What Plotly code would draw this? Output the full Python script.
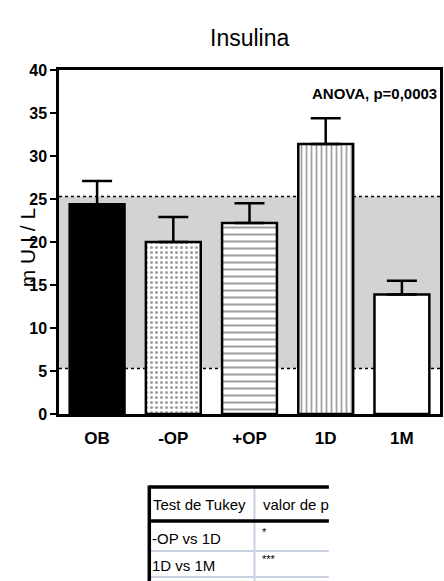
import plotly.graph_objects as go

# ---- data ----
categories = ["OB", "-OP", "+OP", "1D", "1M"]
means = [24.4, 20.0, 22.2, 31.4, 13.9]
sem = [2.7, 2.9, 2.3, 3.0, 1.6]
ref_low = 5.3
ref_high = 25.3
y_ticks = [0, 5, 10, 15, 20, 25, 30, 35, 40]
title_text = "Insulina"
y_label = "m U I / L"
anova_text = "ANOVA, p=0,0003"
table_header = ["Test de Tukey", "valor de p"]
table_col1 = ["-OP vs 1D", "1D vs 1M"]
table_col2 = ["*", "***"]

FONT = "Liberation Sans, Arial, sans-serif"
W, H = 444, 581
L, R, T, B = 59, 1, 70, 167
PW, PH = W - L - R, H - T - B


def px(x):
    return (x - L) / PW


def py(y):
    return (H - B - y) / PH


fig = go.Figure()

fig.add_trace(go.Bar(
    x=categories,
    y=means,
    width=0.72,
    marker=dict(
        color=["black", "white", "white", "white", "white"],
        line=dict(color="black", width=2.5),
        pattern=dict(
            shape=["", ".", "-", "|", ""],
            fgcolor="black",
            bgcolor="white",
            size=[6, 5, 7, 5, 6],
            solidity=[0.2, 0.3, 0.3, 0.35, 0.2],
            fillmode="overlay",
        ),
    ),
    error_y=dict(
        type="data",
        array=sem,
        arrayminus=[0] * len(sem),
        symmetric=False,
        color="black",
        thickness=2.5,
        width=15,
    ),
    showlegend=False,
))

shapes = [
    dict(type="rect", xref="paper", yref="y", x0=0, x1=1, y0=ref_low, y1=ref_high,
         fillcolor="#d3d3d3", line=dict(width=0), layer="below"),
    dict(type="line", xref="paper", yref="y", x0=0, x1=1, y0=ref_low, y1=ref_low,
         line=dict(color="black", width=1.5, dash="dot"), layer="below"),
    dict(type="line", xref="paper", yref="y", x0=0, x1=1, y0=ref_high, y1=ref_high,
         line=dict(color="black", width=1.5, dash="dot"), layer="below"),
]

# ---- table (pixel layout) ----
tx0, tx1, tcol = 150, 331, 256
ty0, thead, trow, tbot = 487, 521, 551, 581
light = "#c9d2e3"
shapes += [
    dict(type="line", xref="paper", yref="paper", x0=px(tcol), x1=px(tcol), y0=py(ty0), y1=py(tbot),
         line=dict(color=light, width=2)),
    dict(type="line", xref="paper", yref="paper", x0=px(tx0), x1=px(tx1), y0=py(trow), y1=py(trow),
         line=dict(color=light, width=2)),
    dict(type="line", xref="paper", yref="paper", x0=px(tx0), x1=px(tx1), y0=py(577), y1=py(577),
         line=dict(color=light, width=2)),
    dict(type="line", xref="paper", yref="paper", x0=px(tx0), x1=px(tx1), y0=py(ty0), y1=py(ty0),
         line=dict(color="black", width=3.5)),
    dict(type="line", xref="paper", yref="paper", x0=px(tx0), x1=px(tx1), y0=py(thead), y1=py(thead),
         line=dict(color="black", width=3.5)),
    dict(type="line", xref="paper", yref="paper", x0=px(tx0), x1=px(tx0), y0=py(ty0 - 1.5), y1=py(tbot),
         line=dict(color="black", width=3.5)),
]

annotations = [
    dict(text=title_text, xref="paper", yref="paper", x=0.5, y=py(38), showarrow=False,
         font=dict(family=FONT, size=23, color="black"), xanchor="center", yanchor="middle"),
    dict(text="<b>" + anova_text + "</b>", xref="paper", yref="paper", x=px(442), y=py(93),
         showarrow=False, font=dict(family=FONT, size=15, color="black"),
         xanchor="right", yanchor="middle"),
    dict(text=y_label, xref="paper", yref="paper", x=px(27), y=py(248), showarrow=False,
         textangle=-90, font=dict(family=FONT, size=21, color="black"),
         xanchor="center", yanchor="middle"),
    dict(text=table_header[0], xref="paper", yref="paper", x=px(152), y=py(504), showarrow=False,
         font=dict(family=FONT, size=15, color="black"), xanchor="left", yanchor="middle"),
    dict(text=table_header[1], xref="paper", yref="paper", x=px(263), y=py(504), showarrow=False,
         font=dict(family=FONT, size=15, color="black"), xanchor="left", yanchor="middle"),
]
row_y = [538, 565]
for i in range(len(table_col1)):
    annotations.append(dict(text=table_col1[i], xref="paper", yref="paper", x=px(151), y=py(row_y[i]),
                            showarrow=False, font=dict(family=FONT, size=15, color="black"),
                            xanchor="left", yanchor="middle"))
    annotations.append(dict(text=table_col2[i], xref="paper", yref="paper", x=px(262), y=py(row_y[i] - 6),
                            showarrow=False, font=dict(family=FONT, size=11, color="black"),
                            xanchor="left", yanchor="middle"))

fig.update_layout(
    width=W, height=H,
    margin=dict(l=L, r=R, t=T, b=B, pad=0),
    paper_bgcolor="white",
    plot_bgcolor="white",
    shapes=shapes,
    annotations=annotations,
    bargap=0.28,
    xaxis=dict(
        showline=True, linecolor="black", linewidth=2.5, mirror=True,
        ticks="outside", ticklen=7, tickcolor="rgba(0,0,0,0)",
        tickfont=dict(family=FONT, size=17, color="black"),
        tickprefix="<b>", ticksuffix="</b>",
        showgrid=False, zeroline=False, range=[-0.5, 4.5],
    ),
    yaxis=dict(
        range=[0, 40], tickvals=y_ticks, ticktext=["<b>%d</b>" % v for v in y_ticks],
        showline=True, linecolor="black", linewidth=2.5, mirror=True,
        ticks="outside", ticklen=6, tickwidth=2, tickcolor="black",
        tickfont=dict(family=FONT, size=16, color="black"),
        showgrid=False, zeroline=False,
    ),
)

fig.write_html("out.html")
